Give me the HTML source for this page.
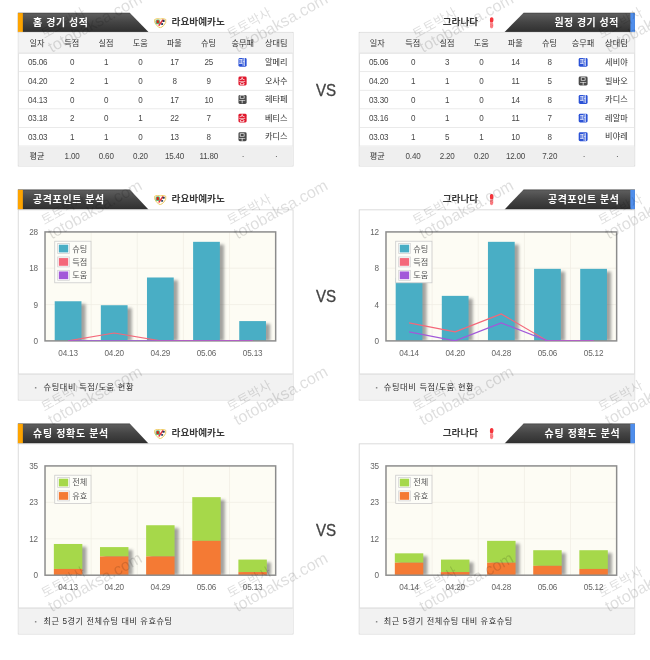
<!DOCTYPE html>
<html lang="ko"><head><meta charset="utf-8"><title>경기 분석</title>
<style>
html,body{margin:0;padding:0;background:#fff}
body{width:650px;height:660px;overflow:hidden;position:relative;font-family:"Liberation Sans","Noto Sans CJK KR",sans-serif}
#stage{position:absolute;left:0;top:0;width:875px;height:889px;transform:scale(0.742857143);transform-origin:0 0;background:#fff;overflow:hidden}
.abs{position:absolute}
svg.k{display:block;overflow:visible}
svg text{font-family:"Liberation Sans","Noto Sans CJK KR",sans-serif}
.hd{position:absolute;height:27px}
.tbl{position:absolute;box-sizing:border-box;border:1px solid #cfcfcf;background:#fff}
.row{position:relative;box-sizing:border-box;border-bottom:1px solid #e3e3e3;display:flex}
.row.th{background:#f3f3f3;border-bottom:1px solid #d9d9d9}
.row.avg{background:#efefef;border-bottom:none}
.c{display:flex;align-items:center;justify-content:center;font-size:12.6px;color:#484848;height:100%;flex:none}
.c.n{transform:scaleX(0.86);letter-spacing:-0.3px;box-sizing:border-box;padding-top:1px}
.c.d{padding-left:2.8px}
.bd{width:11.6px;height:12.2px;border-radius:2px;display:flex;align-items:center;justify-content:center;position:relative;left:-0.75px;top:0.7px}
.vs{position:absolute;font-size:21.3px;color:#444;width:60px;text-align:center;line-height:24px;transform:scaleX(0.955);-webkit-text-stroke:0.45px #444}
.panel{position:absolute;box-sizing:border-box;border:1px solid #cecece;background:#fff}
.foot{position:absolute;left:0;right:0;bottom:0;box-sizing:border-box;border-top:1px solid #d0d0d0;background:#f2f2f2}
</style></head>
<body>
<div id="stage">
<svg width="0" height="0" style="position:absolute"><defs><linearGradient id="hg" x1="0" y1="0" x2="0" y2="1"><stop offset="0" stop-color="#3c3c3c"/><stop offset="0.07" stop-color="#5c5c5c"/><stop offset="0.5" stop-color="#444"/><stop offset="0.93" stop-color="#323232"/><stop offset="1" stop-color="#262626"/></linearGradient></defs></svg>
<div class="hd" style="left:24.4px;top:17.1px;width:371.0px;height:26.4px"><svg class="abs" style="left:0;top:0;overflow:visible" width="371.0" height="26.4" viewBox="0 0 371.0 26.4"><polygon points="0,0 150.6,0 176.2,26.4 0,26.4" fill="url(#hg)"/><rect x="0" y="0.6" width="6.7" height="25.8" fill="#fea400"/><text x="20.5" y="18.6" font-size="13.4" font-weight="700" fill="#fff" textLength="73.7" lengthAdjust="spacing">홈 경기 성적</text></svg><svg class="abs" style="left:183.0px;top:6.5px" width="17.4" height="14.2" viewBox="0 0 17.4 14.2" role="img" aria-label="logo"><path d="M1.2 2.2 Q4.5 0.2 8.7 1.6 Q12.9 0.2 16.2 2.2 Q17.2 6.5 13.6 10.2 Q11 12.6 8.7 13.6 Q6.4 12.6 3.8 10.2 Q0.2 6.5 1.2 2.2Z" fill="#fffdf6" stroke="#eec95e" stroke-width="1.3"/><rect x="2.4" y="2.3" width="6.0" height="6.4" rx="2.2" fill="#5db880"/><rect x="3.8" y="3.2" width="3.1" height="4.2" rx="1" fill="#d9261c"/><path d="M11.6 1.9 L13.4 2.9 L7.4 11.2 L5.9 10.0Z" fill="#ea2f3c"/><rect x="11.9" y="2.7" width="2.7" height="2.9" rx="0.8" fill="#2a3552"/><rect x="9.9" y="7.1" width="2.7" height="2.6" rx="0.8" fill="#34415f"/></svg><svg class="k" role="img" aria-label="라요바예카노" width="79.10" height="13.20" viewBox="0 0 79.10 13.20" style="position:absolute;left:205.4px;top:6.2px"><text x="1" y="11" font-size="13" font-weight="700" fill="#3a3a3a">라요바예카노</text></svg></div>
<div class="hd" style="left:483.0px;top:17.1px;width:371.8px;height:26.4px"><svg class="abs" style="left:0;top:0;overflow:visible" width="371.8" height="26.4" viewBox="0 0 371.8 26.4"><polygon points="371.8,0 221.9,0 196,26.4 371.8,26.4" fill="url(#hg)"/><rect x="365.6" y="0.6" width="6.2" height="25.8" fill="#4f8eec"/><text x="263.4" y="18.6" font-size="13.4" font-weight="700" fill="#fff" textLength="86" lengthAdjust="spacing">원정 경기 성적</text></svg><svg class="k" role="img" aria-label="그라나다" width="53.10" height="13.20" viewBox="0 0 53.10 13.20" style="position:absolute;right:207.2px;top:6.2px"><text x="1" y="11" font-size="13" font-weight="700" fill="#3a3a3a">그라나다</text></svg><svg class="abs" style="left:176.4px;top:5.9px" width="5.8" height="15.6" viewBox="0 0 6.4 15.6" preserveAspectRatio="none" role="img" aria-label="logo"><path d="M3.0 0.3 C4.6 0.2 5.9 1.2 5.8 3.2 C5.9 5 5.4 6.6 4.4 7.4 L1.4 7.6 C0.5 6.2 0.3 4.2 0.6 2.6 C0.8 1.2 1.8 0.4 3.0 0.3Z" fill="#f5333a"/><path d="M1.2 7.4 L4.8 7.2 C5.6 9 5.8 11.4 5.4 13 C5 14.6 3.8 15.4 2.8 15.2 C1.6 15 0.8 13.8 0.7 12.2 C0.5 10.4 0.7 8.8 1.2 7.4Z" fill="#f9848a"/><path d="M1.4 8.8 L2.6 9.2 L2.2 10.6 Z M3.4 10.8 L4.6 11.4 L3.8 12.6 Z M1.6 12.4 L2.8 13 L2 14Z" fill="#f33" opacity="0.9"/></svg></div>
<div class="hd" style="left:24.4px;top:255.1px;width:371.0px;height:27.2px"><svg class="abs" style="left:0;top:0;overflow:visible" width="371.0" height="27.2" viewBox="0 0 371.0 27.2"><polygon points="0,0 150.6,0 176.2,27.2 0,27.2" fill="url(#hg)"/><rect x="0" y="0.6" width="6.7" height="26.6" fill="#fea400"/><text x="20.5" y="18.6" font-size="13.4" font-weight="700" fill="#fff" textLength="95.7" lengthAdjust="spacing">공격포인트 분석</text></svg><svg class="abs" style="left:183.0px;top:6.5px" width="17.4" height="14.2" viewBox="0 0 17.4 14.2" role="img" aria-label="logo"><path d="M1.2 2.2 Q4.5 0.2 8.7 1.6 Q12.9 0.2 16.2 2.2 Q17.2 6.5 13.6 10.2 Q11 12.6 8.7 13.6 Q6.4 12.6 3.8 10.2 Q0.2 6.5 1.2 2.2Z" fill="#fffdf6" stroke="#eec95e" stroke-width="1.3"/><rect x="2.4" y="2.3" width="6.0" height="6.4" rx="2.2" fill="#5db880"/><rect x="3.8" y="3.2" width="3.1" height="4.2" rx="1" fill="#d9261c"/><path d="M11.6 1.9 L13.4 2.9 L7.4 11.2 L5.9 10.0Z" fill="#ea2f3c"/><rect x="11.9" y="2.7" width="2.7" height="2.9" rx="0.8" fill="#2a3552"/><rect x="9.9" y="7.1" width="2.7" height="2.6" rx="0.8" fill="#34415f"/></svg><svg class="k" role="img" aria-label="라요바예카노" width="79.10" height="13.20" viewBox="0 0 79.10 13.20" style="position:absolute;left:205.4px;top:6.2px"><text x="1" y="11" font-size="13" font-weight="700" fill="#3a3a3a">라요바예카노</text></svg></div>
<div class="hd" style="left:483.0px;top:255.1px;width:371.8px;height:27.2px"><svg class="abs" style="left:0;top:0;overflow:visible" width="371.8" height="27.2" viewBox="0 0 371.8 27.2"><polygon points="371.8,0 221.9,0 196,27.2 371.8,27.2" fill="url(#hg)"/><rect x="365.6" y="0.6" width="6.2" height="26.6" fill="#4f8eec"/><text x="254.6" y="18.6" font-size="13.4" font-weight="700" fill="#fff" textLength="95.7" lengthAdjust="spacing">공격포인트 분석</text></svg><svg class="k" role="img" aria-label="그라나다" width="53.10" height="13.20" viewBox="0 0 53.10 13.20" style="position:absolute;right:207.2px;top:6.2px"><text x="1" y="11" font-size="13" font-weight="700" fill="#3a3a3a">그라나다</text></svg><svg class="abs" style="left:176.4px;top:5.9px" width="5.8" height="15.6" viewBox="0 0 6.4 15.6" preserveAspectRatio="none" role="img" aria-label="logo"><path d="M3.0 0.3 C4.6 0.2 5.9 1.2 5.8 3.2 C5.9 5 5.4 6.6 4.4 7.4 L1.4 7.6 C0.5 6.2 0.3 4.2 0.6 2.6 C0.8 1.2 1.8 0.4 3.0 0.3Z" fill="#f5333a"/><path d="M1.2 7.4 L4.8 7.2 C5.6 9 5.8 11.4 5.4 13 C5 14.6 3.8 15.4 2.8 15.2 C1.6 15 0.8 13.8 0.7 12.2 C0.5 10.4 0.7 8.8 1.2 7.4Z" fill="#f9848a"/><path d="M1.4 8.8 L2.6 9.2 L2.2 10.6 Z M3.4 10.8 L4.6 11.4 L3.8 12.6 Z M1.6 12.4 L2.8 13 L2 14Z" fill="#f33" opacity="0.9"/></svg></div>
<div class="hd" style="left:24.4px;top:570.1px;width:371.0px;height:27.2px"><svg class="abs" style="left:0;top:0;overflow:visible" width="371.0" height="27.2" viewBox="0 0 371.0 27.2"><polygon points="0,0 150.6,0 176.2,27.2 0,27.2" fill="url(#hg)"/><rect x="0" y="0.6" width="6.7" height="26.6" fill="#fea400"/><text x="20.5" y="18.6" font-size="13.4" font-weight="700" fill="#fff" textLength="101.2" lengthAdjust="spacing">슈팅 정확도 분석</text></svg><svg class="abs" style="left:183.0px;top:6.5px" width="17.4" height="14.2" viewBox="0 0 17.4 14.2" role="img" aria-label="logo"><path d="M1.2 2.2 Q4.5 0.2 8.7 1.6 Q12.9 0.2 16.2 2.2 Q17.2 6.5 13.6 10.2 Q11 12.6 8.7 13.6 Q6.4 12.6 3.8 10.2 Q0.2 6.5 1.2 2.2Z" fill="#fffdf6" stroke="#eec95e" stroke-width="1.3"/><rect x="2.4" y="2.3" width="6.0" height="6.4" rx="2.2" fill="#5db880"/><rect x="3.8" y="3.2" width="3.1" height="4.2" rx="1" fill="#d9261c"/><path d="M11.6 1.9 L13.4 2.9 L7.4 11.2 L5.9 10.0Z" fill="#ea2f3c"/><rect x="11.9" y="2.7" width="2.7" height="2.9" rx="0.8" fill="#2a3552"/><rect x="9.9" y="7.1" width="2.7" height="2.6" rx="0.8" fill="#34415f"/></svg><svg class="k" role="img" aria-label="라요바예카노" width="79.10" height="13.20" viewBox="0 0 79.10 13.20" style="position:absolute;left:205.4px;top:6.2px"><text x="1" y="11" font-size="13" font-weight="700" fill="#3a3a3a">라요바예카노</text></svg></div>
<div class="hd" style="left:483.0px;top:570.1px;width:371.8px;height:27.2px"><svg class="abs" style="left:0;top:0;overflow:visible" width="371.8" height="27.2" viewBox="0 0 371.8 27.2"><polygon points="371.8,0 221.9,0 196,27.2 371.8,27.2" fill="url(#hg)"/><rect x="365.6" y="0.6" width="6.2" height="26.6" fill="#4f8eec"/><text x="250.1" y="18.6" font-size="13.4" font-weight="700" fill="#fff" textLength="101.2" lengthAdjust="spacing">슈팅 정확도 분석</text></svg><svg class="k" role="img" aria-label="그라나다" width="53.10" height="13.20" viewBox="0 0 53.10 13.20" style="position:absolute;right:207.2px;top:6.2px"><text x="1" y="11" font-size="13" font-weight="700" fill="#3a3a3a">그라나다</text></svg><svg class="abs" style="left:176.4px;top:5.9px" width="5.8" height="15.6" viewBox="0 0 6.4 15.6" preserveAspectRatio="none" role="img" aria-label="logo"><path d="M3.0 0.3 C4.6 0.2 5.9 1.2 5.8 3.2 C5.9 5 5.4 6.6 4.4 7.4 L1.4 7.6 C0.5 6.2 0.3 4.2 0.6 2.6 C0.8 1.2 1.8 0.4 3.0 0.3Z" fill="#f5333a"/><path d="M1.2 7.4 L4.8 7.2 C5.6 9 5.8 11.4 5.4 13 C5 14.6 3.8 15.4 2.8 15.2 C1.6 15 0.8 13.8 0.7 12.2 C0.5 10.4 0.7 8.8 1.2 7.4Z" fill="#f9848a"/><path d="M1.4 8.8 L2.6 9.2 L2.2 10.6 Z M3.4 10.8 L4.6 11.4 L3.8 12.6 Z M1.6 12.4 L2.8 13 L2 14Z" fill="#f33" opacity="0.9"/></svg></div>
<div class="tbl" style="left:24.4px;top:43.0px;width:371.0px;height:181px"><div class="row th" style="height:27.6px"><div class="c" style="width:49px"><svg class="k" role="img" aria-label="일자" width="22.30" height="11.00" viewBox="0 0 22.30 11.00" style=""><text x="0.6" y="9.5" font-size="11" fill="#333">일자</text></svg></div><div class="c" style="width:46px"><svg class="k" role="img" aria-label="득점" width="22.30" height="11.00" viewBox="0 0 22.30 11.00" style=""><text x="0.6" y="9.5" font-size="11" fill="#333">득점</text></svg></div><div class="c" style="width:46px"><svg class="k" role="img" aria-label="실점" width="22.30" height="11.00" viewBox="0 0 22.30 11.00" style=""><text x="0.6" y="9.5" font-size="11" fill="#333">실점</text></svg></div><div class="c" style="width:46px"><svg class="k" role="img" aria-label="도움" width="22.30" height="11.00" viewBox="0 0 22.30 11.00" style=""><text x="0.6" y="9.5" font-size="11" fill="#333">도움</text></svg></div><div class="c" style="width:46px"><svg class="k" role="img" aria-label="파울" width="22.30" height="11.00" viewBox="0 0 22.30 11.00" style=""><text x="0.6" y="9.5" font-size="11" fill="#333">파울</text></svg></div><div class="c" style="width:46px"><svg class="k" role="img" aria-label="슈팅" width="22.30" height="11.00" viewBox="0 0 22.30 11.00" style=""><text x="0.6" y="9.5" font-size="11" fill="#333">슈팅</text></svg></div><div class="c" style="width:46px"><svg class="k" role="img" aria-label="승무패" width="33.30" height="11.00" viewBox="0 0 33.30 11.00" style=""><text x="0.6" y="9.5" font-size="11" fill="#333">승무패</text></svg></div><div class="c" style="width:44px"><svg class="k" role="img" aria-label="상대팀" width="33.30" height="11.00" viewBox="0 0 33.30 11.00" style=""><text x="0.6" y="9.5" font-size="11" fill="#333">상대팀</text></svg></div></div><div class="row" style="height:25px"><div class="c n d" style="width:49px">05.06</div><div class="c n" style="width:46px">0</div><div class="c n" style="width:46px">1</div><div class="c n" style="width:46px">0</div><div class="c n" style="width:46px">17</div><div class="c n" style="width:46px">25</div><div class="c" style="width:46px"><span class="bd" style="background:#2b52d6"><svg class="k" role="img" aria-label="패" width="10.60" height="10.40" viewBox="0 0 10.60 10.40" style="margin-left:-0.5px"><text x="0.3" y="8.9" font-size="10" fill="#fff">패</text></svg></span></div><div class="c" style="width:44px"><svg class="k" role="img" aria-label="알메리" width="33.30" height="11.00" viewBox="0 0 33.30 11.00" style=""><text x="0.6" y="9.5" font-size="11" fill="#2e2e2e">알메리</text></svg></div></div><div class="row" style="height:25px"><div class="c n d" style="width:49px">04.20</div><div class="c n" style="width:46px">2</div><div class="c n" style="width:46px">1</div><div class="c n" style="width:46px">0</div><div class="c n" style="width:46px">8</div><div class="c n" style="width:46px">9</div><div class="c" style="width:46px"><span class="bd" style="background:#e0182d"><svg class="k" role="img" aria-label="승" width="10.60" height="10.40" viewBox="0 0 10.60 10.40" style="margin-left:-0.5px"><text x="0.3" y="8.9" font-size="10" fill="#fff">승</text></svg></span></div><div class="c" style="width:44px"><svg class="k" role="img" aria-label="오사수" width="33.30" height="11.00" viewBox="0 0 33.30 11.00" style=""><text x="0.6" y="9.5" font-size="11" fill="#2e2e2e">오사수</text></svg></div></div><div class="row" style="height:25px"><div class="c n d" style="width:49px">04.13</div><div class="c n" style="width:46px">0</div><div class="c n" style="width:46px">0</div><div class="c n" style="width:46px">0</div><div class="c n" style="width:46px">17</div><div class="c n" style="width:46px">10</div><div class="c" style="width:46px"><span class="bd" style="background:#4a4a4a"><svg class="k" role="img" aria-label="무" width="10.60" height="10.40" viewBox="0 0 10.60 10.40" style="margin-left:-0.5px"><text x="0.3" y="8.9" font-size="10" fill="#fff">무</text></svg></span></div><div class="c" style="width:44px"><svg class="k" role="img" aria-label="헤타페" width="33.30" height="11.00" viewBox="0 0 33.30 11.00" style=""><text x="0.6" y="9.5" font-size="11" fill="#2e2e2e">헤타페</text></svg></div></div><div class="row" style="height:25px"><div class="c n d" style="width:49px">03.18</div><div class="c n" style="width:46px">2</div><div class="c n" style="width:46px">0</div><div class="c n" style="width:46px">1</div><div class="c n" style="width:46px">22</div><div class="c n" style="width:46px">7</div><div class="c" style="width:46px"><span class="bd" style="background:#e0182d"><svg class="k" role="img" aria-label="승" width="10.60" height="10.40" viewBox="0 0 10.60 10.40" style="margin-left:-0.5px"><text x="0.3" y="8.9" font-size="10" fill="#fff">승</text></svg></span></div><div class="c" style="width:44px"><svg class="k" role="img" aria-label="베티스" width="33.30" height="11.00" viewBox="0 0 33.30 11.00" style=""><text x="0.6" y="9.5" font-size="11" fill="#2e2e2e">베티스</text></svg></div></div><div class="row" style="height:25px"><div class="c n d" style="width:49px">03.03</div><div class="c n" style="width:46px">1</div><div class="c n" style="width:46px">1</div><div class="c n" style="width:46px">0</div><div class="c n" style="width:46px">13</div><div class="c n" style="width:46px">8</div><div class="c" style="width:46px"><span class="bd" style="background:#4a4a4a"><svg class="k" role="img" aria-label="무" width="10.60" height="10.40" viewBox="0 0 10.60 10.40" style="margin-left:-0.5px"><text x="0.3" y="8.9" font-size="10" fill="#fff">무</text></svg></span></div><div class="c" style="width:44px"><svg class="k" role="img" aria-label="카디스" width="33.30" height="11.00" viewBox="0 0 33.30 11.00" style=""><text x="0.6" y="9.5" font-size="11" fill="#2e2e2e">카디스</text></svg></div></div><div class="row avg" style="height:26.4px"><div class="c" style="width:49px"><svg class="k" role="img" aria-label="평균" width="22.30" height="11.00" viewBox="0 0 22.30 11.00" style=""><text x="0.6" y="9.5" font-size="11" fill="#2e2e2e">평균</text></svg></div><div class="c n" style="width:46px">1.00</div><div class="c n" style="width:46px">0.60</div><div class="c n" style="width:46px">0.20</div><div class="c n" style="width:46px">15.40</div><div class="c n" style="width:46px">11.80</div><div class="c n" style="width:46px">·</div><div class="c n" style="width:44px">·</div></div></div>
<div class="tbl" style="left:483.0px;top:43.0px;width:371.8px;height:181px"><div class="row th" style="height:27.6px"><div class="c" style="width:49px"><svg class="k" role="img" aria-label="일자" width="22.30" height="11.00" viewBox="0 0 22.30 11.00" style=""><text x="0.6" y="9.5" font-size="11" fill="#333">일자</text></svg></div><div class="c" style="width:46px"><svg class="k" role="img" aria-label="득점" width="22.30" height="11.00" viewBox="0 0 22.30 11.00" style=""><text x="0.6" y="9.5" font-size="11" fill="#333">득점</text></svg></div><div class="c" style="width:46px"><svg class="k" role="img" aria-label="실점" width="22.30" height="11.00" viewBox="0 0 22.30 11.00" style=""><text x="0.6" y="9.5" font-size="11" fill="#333">실점</text></svg></div><div class="c" style="width:46px"><svg class="k" role="img" aria-label="도움" width="22.30" height="11.00" viewBox="0 0 22.30 11.00" style=""><text x="0.6" y="9.5" font-size="11" fill="#333">도움</text></svg></div><div class="c" style="width:46px"><svg class="k" role="img" aria-label="파울" width="22.30" height="11.00" viewBox="0 0 22.30 11.00" style=""><text x="0.6" y="9.5" font-size="11" fill="#333">파울</text></svg></div><div class="c" style="width:46px"><svg class="k" role="img" aria-label="슈팅" width="22.30" height="11.00" viewBox="0 0 22.30 11.00" style=""><text x="0.6" y="9.5" font-size="11" fill="#333">슈팅</text></svg></div><div class="c" style="width:46px"><svg class="k" role="img" aria-label="승무패" width="33.30" height="11.00" viewBox="0 0 33.30 11.00" style=""><text x="0.6" y="9.5" font-size="11" fill="#333">승무패</text></svg></div><div class="c" style="width:44px"><svg class="k" role="img" aria-label="상대팀" width="33.30" height="11.00" viewBox="0 0 33.30 11.00" style=""><text x="0.6" y="9.5" font-size="11" fill="#333">상대팀</text></svg></div></div><div class="row" style="height:25px"><div class="c n d" style="width:49px">05.06</div><div class="c n" style="width:46px">0</div><div class="c n" style="width:46px">3</div><div class="c n" style="width:46px">0</div><div class="c n" style="width:46px">14</div><div class="c n" style="width:46px">8</div><div class="c" style="width:46px"><span class="bd" style="background:#2b52d6"><svg class="k" role="img" aria-label="패" width="10.60" height="10.40" viewBox="0 0 10.60 10.40" style="margin-left:-0.5px"><text x="0.3" y="8.9" font-size="10" fill="#fff">패</text></svg></span></div><div class="c" style="width:44px"><svg class="k" role="img" aria-label="세비야" width="33.30" height="11.00" viewBox="0 0 33.30 11.00" style=""><text x="0.6" y="9.5" font-size="11" fill="#2e2e2e">세비야</text></svg></div></div><div class="row" style="height:25px"><div class="c n d" style="width:49px">04.20</div><div class="c n" style="width:46px">1</div><div class="c n" style="width:46px">1</div><div class="c n" style="width:46px">0</div><div class="c n" style="width:46px">11</div><div class="c n" style="width:46px">5</div><div class="c" style="width:46px"><span class="bd" style="background:#4a4a4a"><svg class="k" role="img" aria-label="무" width="10.60" height="10.40" viewBox="0 0 10.60 10.40" style="margin-left:-0.5px"><text x="0.3" y="8.9" font-size="10" fill="#fff">무</text></svg></span></div><div class="c" style="width:44px"><svg class="k" role="img" aria-label="빌바오" width="33.30" height="11.00" viewBox="0 0 33.30 11.00" style=""><text x="0.6" y="9.5" font-size="11" fill="#2e2e2e">빌바오</text></svg></div></div><div class="row" style="height:25px"><div class="c n d" style="width:49px">03.30</div><div class="c n" style="width:46px">0</div><div class="c n" style="width:46px">1</div><div class="c n" style="width:46px">0</div><div class="c n" style="width:46px">14</div><div class="c n" style="width:46px">8</div><div class="c" style="width:46px"><span class="bd" style="background:#2b52d6"><svg class="k" role="img" aria-label="패" width="10.60" height="10.40" viewBox="0 0 10.60 10.40" style="margin-left:-0.5px"><text x="0.3" y="8.9" font-size="10" fill="#fff">패</text></svg></span></div><div class="c" style="width:44px"><svg class="k" role="img" aria-label="카디스" width="33.30" height="11.00" viewBox="0 0 33.30 11.00" style=""><text x="0.6" y="9.5" font-size="11" fill="#2e2e2e">카디스</text></svg></div></div><div class="row" style="height:25px"><div class="c n d" style="width:49px">03.16</div><div class="c n" style="width:46px">0</div><div class="c n" style="width:46px">1</div><div class="c n" style="width:46px">0</div><div class="c n" style="width:46px">11</div><div class="c n" style="width:46px">7</div><div class="c" style="width:46px"><span class="bd" style="background:#2b52d6"><svg class="k" role="img" aria-label="패" width="10.60" height="10.40" viewBox="0 0 10.60 10.40" style="margin-left:-0.5px"><text x="0.3" y="8.9" font-size="10" fill="#fff">패</text></svg></span></div><div class="c" style="width:44px"><svg class="k" role="img" aria-label="레알마" width="33.30" height="11.00" viewBox="0 0 33.30 11.00" style=""><text x="0.6" y="9.5" font-size="11" fill="#2e2e2e">레알마</text></svg></div></div><div class="row" style="height:25px"><div class="c n d" style="width:49px">03.03</div><div class="c n" style="width:46px">1</div><div class="c n" style="width:46px">5</div><div class="c n" style="width:46px">1</div><div class="c n" style="width:46px">10</div><div class="c n" style="width:46px">8</div><div class="c" style="width:46px"><span class="bd" style="background:#2b52d6"><svg class="k" role="img" aria-label="패" width="10.60" height="10.40" viewBox="0 0 10.60 10.40" style="margin-left:-0.5px"><text x="0.3" y="8.9" font-size="10" fill="#fff">패</text></svg></span></div><div class="c" style="width:44px"><svg class="k" role="img" aria-label="비야레" width="33.30" height="11.00" viewBox="0 0 33.30 11.00" style=""><text x="0.6" y="9.5" font-size="11" fill="#2e2e2e">비야레</text></svg></div></div><div class="row avg" style="height:26.4px"><div class="c" style="width:49px"><svg class="k" role="img" aria-label="평균" width="22.30" height="11.00" viewBox="0 0 22.30 11.00" style=""><text x="0.6" y="9.5" font-size="11" fill="#2e2e2e">평균</text></svg></div><div class="c n" style="width:46px">0.40</div><div class="c n" style="width:46px">2.20</div><div class="c n" style="width:46px">0.20</div><div class="c n" style="width:46px">12.00</div><div class="c n" style="width:46px">7.20</div><div class="c n" style="width:46px">·</div><div class="c n" style="width:44px">·</div></div></div>
<div class="vs" style="left:408.5px;top:110.4px">VS</div>
<div class="vs" style="left:408.5px;top:386.8px">VS</div>
<div class="vs" style="left:408.5px;top:701.9px">VS</div>
<svg width="0" height="0" style="position:absolute"><defs><filter id="bl" x="-20%" y="-20%" width="140%" height="140%"><feGaussianBlur stdDeviation="2.1"/></filter></defs></svg>
<div class="panel" style="left:24.4px;top:281.8px;width:371.0px;height:257.7px"><svg class="abs" style="left:0;top:-27.7px;overflow:visible" width="371.0" height="260" viewBox="0 0 371.0 260" font-family="Liberation Sans, Noto Sans CJK KR, sans-serif"><rect x="35.6" y="57.2" width="310.5" height="146.7" fill="#fdfcf4"/><line x1="97.70" y1="57.2" x2="97.70" y2="203.89999999999998" stroke="#f0ede4" stroke-width="1"/><line x1="159.80" y1="57.2" x2="159.80" y2="203.89999999999998" stroke="#f0ede4" stroke-width="1"/><line x1="221.90" y1="57.2" x2="221.90" y2="203.89999999999998" stroke="#f0ede4" stroke-width="1"/><line x1="284.00" y1="57.2" x2="284.00" y2="203.89999999999998" stroke="#f0ede4" stroke-width="1"/><line x1="35.6" y1="106.10" x2="346.1" y2="106.10" stroke="#f0ede4" stroke-width="1"/><line x1="35.6" y1="155.00" x2="346.1" y2="155.00" stroke="#f0ede4" stroke-width="1"/><svg x="35.6" y="57.2" width="310.5" height="146.7" viewBox="35.6 57.2 310.5 146.7" overflow="hidden"><rect x="54.25" y="154.35" width="36.0" height="49.55" fill="#4a4a4a" opacity="0.5" filter="url(#bl)"/><rect x="116.35" y="159.69" width="36.0" height="44.21" fill="#4a4a4a" opacity="0.5" filter="url(#bl)"/><rect x="178.45" y="122.35" width="36.0" height="81.55" fill="#4a4a4a" opacity="0.5" filter="url(#bl)"/><rect x="240.55" y="74.34" width="36.0" height="129.56" fill="#4a4a4a" opacity="0.5" filter="url(#bl)"/><rect x="302.65" y="181.03" width="36.0" height="22.87" fill="#4a4a4a" opacity="0.5" filter="url(#bl)"/></svg><rect x="48.65" y="150.55" width="36.0" height="53.35" fill="#49aec5"/><rect x="110.75" y="155.89" width="36.0" height="48.01" fill="#49aec5"/><rect x="172.85" y="118.55" width="36.0" height="85.35" fill="#49aec5"/><rect x="234.95" y="70.54" width="36.0" height="133.36" fill="#49aec5"/><rect x="297.05" y="177.23" width="36.0" height="26.67" fill="#49aec5"/><rect x="35.6" y="57.2" width="310.5" height="146.7" fill="none" stroke="#8c8c8c" stroke-width="2"/><svg x="35.6" y="57.2" width="310.5" height="146.7" viewBox="35.6 57.2 310.5 146.7" overflow="hidden"><polyline points="66.65,203.90 128.75,193.23 190.85,203.90 252.95,203.90 315.05,203.90" fill="none" stroke="#f4687a" stroke-width="1.55" stroke-linejoin="round"/><polyline points="66.65,203.90 128.75,203.90 190.85,203.90 252.95,203.90 315.05,203.90" fill="none" stroke="#a259d9" stroke-width="1.55" stroke-linejoin="round"/></svg><text x="26.1" y="61.10" font-size="11" fill="#666" letter-spacing="-0.25" text-anchor="end">28</text><text x="26.1" y="110.10" font-size="11" fill="#666" letter-spacing="-0.25" text-anchor="end">18</text><text x="26.1" y="159.10" font-size="11" fill="#666" letter-spacing="-0.25" text-anchor="end">9</text><text x="26.1" y="208.10" font-size="11" fill="#666" letter-spacing="-0.25" text-anchor="end">0</text><text x="66.65" y="224.60" font-size="11" fill="#666" letter-spacing="-0.25" text-anchor="middle">04.13</text><text x="128.75" y="224.60" font-size="11" fill="#666" letter-spacing="-0.25" text-anchor="middle">04.20</text><text x="190.85" y="224.60" font-size="11" fill="#666" letter-spacing="-0.25" text-anchor="middle">04.29</text><text x="252.95" y="224.60" font-size="11" fill="#666" letter-spacing="-0.25" text-anchor="middle">05.06</text><text x="315.05" y="224.60" font-size="11" fill="#666" letter-spacing="-0.25" text-anchor="middle">05.13</text><rect x="48.7" y="69.7" width="48.8" height="56" fill="#fdfdf8" stroke="#c9c9c9" stroke-width="1"/><rect x="52.7" y="72.9" width="15.6" height="13.4" fill="#fff" stroke="#cfcfcf" stroke-width="1"/><rect x="54.2" y="74.4" width="12.6" height="10.4" fill="#49aec5"/><text x="72.4" y="83.6" font-size="11" fill="#555">슈팅</text><rect x="52.7" y="90.9" width="15.6" height="13.4" fill="#fff" stroke="#cfcfcf" stroke-width="1"/><rect x="54.2" y="92.4" width="12.6" height="10.4" fill="#f4687a"/><text x="72.4" y="101.6" font-size="11" fill="#555">득점</text><rect x="52.7" y="108.9" width="15.6" height="13.4" fill="#fff" stroke="#cfcfcf" stroke-width="1"/><rect x="54.2" y="110.4" width="12.6" height="10.4" fill="#a259d9"/><text x="72.4" y="119.6" font-size="11" fill="#555">도움</text></svg><div class="foot" style="height:35.7px"><span class="abs" style="left:22.1px;top:17px;width:2px;height:2px;background:#888"></span><svg class="k" role="img" aria-label="슈팅대비 득점/도움 현황" width="122.23" height="11.00" viewBox="0 0 122.23 11.00" style="position:absolute;left:32.4px;top:12.4px"><text x="0.6" y="9.5" font-size="11" fill="#2e2e2e" textLength="121" lengthAdjust="spacing">슈팅대비 득점/도움 현황</text></svg></div></div>
<div class="panel" style="left:483.0px;top:281.8px;width:371.8px;height:257.7px"><svg class="abs" style="left:0;top:-27.7px;overflow:visible" width="371.0" height="260" viewBox="0 0 371.0 260" font-family="Liberation Sans, Noto Sans CJK KR, sans-serif"><rect x="35.6" y="57.2" width="310.5" height="146.7" fill="#fdfcf4"/><line x1="97.70" y1="57.2" x2="97.70" y2="203.89999999999998" stroke="#f0ede4" stroke-width="1"/><line x1="159.80" y1="57.2" x2="159.80" y2="203.89999999999998" stroke="#f0ede4" stroke-width="1"/><line x1="221.90" y1="57.2" x2="221.90" y2="203.89999999999998" stroke="#f0ede4" stroke-width="1"/><line x1="284.00" y1="57.2" x2="284.00" y2="203.89999999999998" stroke="#f0ede4" stroke-width="1"/><line x1="35.6" y1="106.10" x2="346.1" y2="106.10" stroke="#f0ede4" stroke-width="1"/><line x1="35.6" y1="155.00" x2="346.1" y2="155.00" stroke="#f0ede4" stroke-width="1"/><svg x="35.6" y="57.2" width="310.5" height="146.7" viewBox="35.6 57.2 310.5 146.7" overflow="hidden"><rect x="54.25" y="122.83" width="36.0" height="81.07" fill="#4a4a4a" opacity="0.5" filter="url(#bl)"/><rect x="116.35" y="147.08" width="36.0" height="56.82" fill="#4a4a4a" opacity="0.5" filter="url(#bl)"/><rect x="178.45" y="74.34" width="36.0" height="129.56" fill="#4a4a4a" opacity="0.5" filter="url(#bl)"/><rect x="240.55" y="110.71" width="36.0" height="93.19" fill="#4a4a4a" opacity="0.5" filter="url(#bl)"/><rect x="302.65" y="110.71" width="36.0" height="93.19" fill="#4a4a4a" opacity="0.5" filter="url(#bl)"/></svg><rect x="48.65" y="119.03" width="36.0" height="84.87" fill="#49aec5"/><rect x="110.75" y="143.28" width="36.0" height="60.62" fill="#49aec5"/><rect x="172.85" y="70.54" width="36.0" height="133.36" fill="#49aec5"/><rect x="234.95" y="106.91" width="36.0" height="96.99" fill="#49aec5"/><rect x="297.05" y="106.91" width="36.0" height="96.99" fill="#49aec5"/><rect x="35.6" y="57.2" width="310.5" height="146.7" fill="none" stroke="#8c8c8c" stroke-width="2"/><svg x="35.6" y="57.2" width="310.5" height="146.7" viewBox="35.6 57.2 310.5 146.7" overflow="hidden"><polyline points="66.65,179.65 128.75,191.78 190.85,167.53 252.95,203.90 315.05,203.90" fill="none" stroke="#f4687a" stroke-width="1.55" stroke-linejoin="round"/><polyline points="66.65,191.78 128.75,203.90 190.85,179.65 252.95,203.90 315.05,203.90" fill="none" stroke="#a259d9" stroke-width="1.55" stroke-linejoin="round"/></svg><text x="26.1" y="61.10" font-size="11" fill="#666" letter-spacing="-0.25" text-anchor="end">12</text><text x="26.1" y="110.10" font-size="11" fill="#666" letter-spacing="-0.25" text-anchor="end">8</text><text x="26.1" y="159.10" font-size="11" fill="#666" letter-spacing="-0.25" text-anchor="end">4</text><text x="26.1" y="208.10" font-size="11" fill="#666" letter-spacing="-0.25" text-anchor="end">0</text><text x="66.65" y="224.60" font-size="11" fill="#666" letter-spacing="-0.25" text-anchor="middle">04.14</text><text x="128.75" y="224.60" font-size="11" fill="#666" letter-spacing="-0.25" text-anchor="middle">04.20</text><text x="190.85" y="224.60" font-size="11" fill="#666" letter-spacing="-0.25" text-anchor="middle">04.28</text><text x="252.95" y="224.60" font-size="11" fill="#666" letter-spacing="-0.25" text-anchor="middle">05.06</text><text x="315.05" y="224.60" font-size="11" fill="#666" letter-spacing="-0.25" text-anchor="middle">05.12</text><rect x="48.7" y="69.7" width="48.8" height="56" fill="#fdfdf8" stroke="#c9c9c9" stroke-width="1"/><rect x="52.7" y="72.9" width="15.6" height="13.4" fill="#fff" stroke="#cfcfcf" stroke-width="1"/><rect x="54.2" y="74.4" width="12.6" height="10.4" fill="#49aec5"/><text x="72.4" y="83.6" font-size="11" fill="#555">슈팅</text><rect x="52.7" y="90.9" width="15.6" height="13.4" fill="#fff" stroke="#cfcfcf" stroke-width="1"/><rect x="54.2" y="92.4" width="12.6" height="10.4" fill="#f4687a"/><text x="72.4" y="101.6" font-size="11" fill="#555">득점</text><rect x="52.7" y="108.9" width="15.6" height="13.4" fill="#fff" stroke="#cfcfcf" stroke-width="1"/><rect x="54.2" y="110.4" width="12.6" height="10.4" fill="#a259d9"/><text x="72.4" y="119.6" font-size="11" fill="#555">도움</text></svg><div class="foot" style="height:35.7px"><span class="abs" style="left:22.1px;top:17px;width:2px;height:2px;background:#888"></span><svg class="k" role="img" aria-label="슈팅대비 득점/도움 현황" width="122.23" height="11.00" viewBox="0 0 122.23 11.00" style="position:absolute;left:32.4px;top:12.4px"><text x="0.6" y="9.5" font-size="11" fill="#2e2e2e" textLength="121" lengthAdjust="spacing">슈팅대비 득점/도움 현황</text></svg></div></div>
<div class="panel" style="left:24.4px;top:596.8000000000001px;width:371.0px;height:257.7px"><svg class="abs" style="left:0;top:-27.7px;overflow:visible" width="371.0" height="260" viewBox="0 0 371.0 260" font-family="Liberation Sans, Noto Sans CJK KR, sans-serif"><rect x="35.6" y="57.2" width="310.5" height="147.1" fill="#fdfcf4"/><line x1="97.70" y1="57.2" x2="97.70" y2="204.3" stroke="#f0ede4" stroke-width="1"/><line x1="159.80" y1="57.2" x2="159.80" y2="204.3" stroke="#f0ede4" stroke-width="1"/><line x1="221.90" y1="57.2" x2="221.90" y2="204.3" stroke="#f0ede4" stroke-width="1"/><line x1="284.00" y1="57.2" x2="284.00" y2="204.3" stroke="#f0ede4" stroke-width="1"/><line x1="35.6" y1="106.23" x2="346.1" y2="106.23" stroke="#f0ede4" stroke-width="1"/><line x1="35.6" y1="155.27" x2="346.1" y2="155.27" stroke="#f0ede4" stroke-width="1"/><svg x="35.6" y="57.2" width="310.5" height="147.1" viewBox="35.6 57.2 310.5 147.1" overflow="hidden"><rect x="53.10" y="166.07" width="38.3" height="38.23" fill="#4a4a4a" opacity="0.5" filter="url(#bl)"/><rect x="115.20" y="170.27" width="38.3" height="34.03" fill="#4a4a4a" opacity="0.5" filter="url(#bl)"/><rect x="177.30" y="140.85" width="38.3" height="63.45" fill="#4a4a4a" opacity="0.5" filter="url(#bl)"/><rect x="239.40" y="103.03" width="38.3" height="101.27" fill="#4a4a4a" opacity="0.5" filter="url(#bl)"/><rect x="301.50" y="187.09" width="38.3" height="17.21" fill="#4a4a4a" opacity="0.5" filter="url(#bl)"/></svg><rect x="47.50" y="162.27" width="38.3" height="33.62" fill="#a6d84a"/><rect x="47.50" y="195.89" width="38.3" height="8.41" fill="#f47a34"/><rect x="109.60" y="166.47" width="38.3" height="12.61" fill="#a6d84a"/><rect x="109.60" y="179.08" width="38.3" height="25.22" fill="#f47a34"/><rect x="171.70" y="137.05" width="38.3" height="42.03" fill="#a6d84a"/><rect x="171.70" y="179.08" width="38.3" height="25.22" fill="#f47a34"/><rect x="233.80" y="99.23" width="38.3" height="58.84" fill="#a6d84a"/><rect x="233.80" y="158.07" width="38.3" height="46.23" fill="#f47a34"/><rect x="295.90" y="183.29" width="38.3" height="16.81" fill="#a6d84a"/><rect x="295.90" y="200.10" width="38.3" height="4.20" fill="#f47a34"/><rect x="35.6" y="57.2" width="310.5" height="147.1" fill="none" stroke="#8c8c8c" stroke-width="2"/><text x="26.1" y="61.10" font-size="11" fill="#666" letter-spacing="-0.25" text-anchor="end">35</text><text x="26.1" y="110.10" font-size="11" fill="#666" letter-spacing="-0.25" text-anchor="end">23</text><text x="26.1" y="159.10" font-size="11" fill="#666" letter-spacing="-0.25" text-anchor="end">12</text><text x="26.1" y="208.10" font-size="11" fill="#666" letter-spacing="-0.25" text-anchor="end">0</text><text x="66.65" y="224.60" font-size="11" fill="#666" letter-spacing="-0.25" text-anchor="middle">04.13</text><text x="128.75" y="224.60" font-size="11" fill="#666" letter-spacing="-0.25" text-anchor="middle">04.20</text><text x="190.85" y="224.60" font-size="11" fill="#666" letter-spacing="-0.25" text-anchor="middle">04.29</text><text x="252.95" y="224.60" font-size="11" fill="#666" letter-spacing="-0.25" text-anchor="middle">05.06</text><text x="315.05" y="224.60" font-size="11" fill="#666" letter-spacing="-0.25" text-anchor="middle">05.13</text><rect x="48.7" y="69.7" width="48.8" height="38" fill="#fdfdf8" stroke="#c9c9c9" stroke-width="1"/><rect x="52.7" y="72.9" width="15.6" height="13.4" fill="#fff" stroke="#cfcfcf" stroke-width="1"/><rect x="54.2" y="74.4" width="12.6" height="10.4" fill="#a6d84a"/><text x="72.4" y="83.5" font-size="11" fill="#555">전체</text><rect x="52.7" y="90.9" width="15.6" height="13.4" fill="#fff" stroke="#cfcfcf" stroke-width="1"/><rect x="54.2" y="92.4" width="12.6" height="10.4" fill="#f47a34"/><text x="72.4" y="101.6" font-size="11" fill="#555">유효</text></svg><div class="foot" style="height:35.7px"><span class="abs" style="left:22.1px;top:17px;width:2px;height:2px;background:#888"></span><svg class="k" role="img" aria-label="최근 5경기 전체슈팅 대비 유효슈팅" width="175.41" height="11.00" viewBox="0 0 175.41 11.00" style="position:absolute;left:32.4px;top:12.4px"><text x="0.6" y="9.5" font-size="11" fill="#2e2e2e" textLength="173" lengthAdjust="spacing">최근 5경기 전체슈팅 대비 유효슈팅</text></svg></div></div>
<div class="panel" style="left:483.0px;top:596.8000000000001px;width:371.8px;height:257.7px"><svg class="abs" style="left:0;top:-27.7px;overflow:visible" width="371.0" height="260" viewBox="0 0 371.0 260" font-family="Liberation Sans, Noto Sans CJK KR, sans-serif"><rect x="35.6" y="57.2" width="310.5" height="147.1" fill="#fdfcf4"/><line x1="97.70" y1="57.2" x2="97.70" y2="204.3" stroke="#f0ede4" stroke-width="1"/><line x1="159.80" y1="57.2" x2="159.80" y2="204.3" stroke="#f0ede4" stroke-width="1"/><line x1="221.90" y1="57.2" x2="221.90" y2="204.3" stroke="#f0ede4" stroke-width="1"/><line x1="284.00" y1="57.2" x2="284.00" y2="204.3" stroke="#f0ede4" stroke-width="1"/><line x1="35.6" y1="106.23" x2="346.1" y2="106.23" stroke="#f0ede4" stroke-width="1"/><line x1="35.6" y1="155.27" x2="346.1" y2="155.27" stroke="#f0ede4" stroke-width="1"/><svg x="35.6" y="57.2" width="310.5" height="147.1" viewBox="35.6 57.2 310.5 147.1" overflow="hidden"><rect x="53.10" y="178.68" width="38.3" height="25.62" fill="#4a4a4a" opacity="0.5" filter="url(#bl)"/><rect x="115.20" y="187.09" width="38.3" height="17.21" fill="#4a4a4a" opacity="0.5" filter="url(#bl)"/><rect x="177.30" y="161.87" width="38.3" height="42.43" fill="#4a4a4a" opacity="0.5" filter="url(#bl)"/><rect x="239.40" y="174.48" width="38.3" height="29.82" fill="#4a4a4a" opacity="0.5" filter="url(#bl)"/><rect x="301.50" y="174.48" width="38.3" height="29.82" fill="#4a4a4a" opacity="0.5" filter="url(#bl)"/></svg><rect x="47.50" y="174.88" width="38.3" height="12.61" fill="#a6d84a"/><rect x="47.50" y="187.49" width="38.3" height="16.81" fill="#f47a34"/><rect x="109.60" y="183.29" width="38.3" height="16.81" fill="#a6d84a"/><rect x="109.60" y="200.10" width="38.3" height="4.20" fill="#f47a34"/><rect x="171.70" y="158.07" width="38.3" height="29.42" fill="#a6d84a"/><rect x="171.70" y="187.49" width="38.3" height="16.81" fill="#f47a34"/><rect x="233.80" y="170.68" width="38.3" height="21.01" fill="#a6d84a"/><rect x="233.80" y="191.69" width="38.3" height="12.61" fill="#f47a34"/><rect x="295.90" y="170.68" width="38.3" height="25.22" fill="#a6d84a"/><rect x="295.90" y="195.89" width="38.3" height="8.41" fill="#f47a34"/><rect x="35.6" y="57.2" width="310.5" height="147.1" fill="none" stroke="#8c8c8c" stroke-width="2"/><text x="26.1" y="61.10" font-size="11" fill="#666" letter-spacing="-0.25" text-anchor="end">35</text><text x="26.1" y="110.10" font-size="11" fill="#666" letter-spacing="-0.25" text-anchor="end">23</text><text x="26.1" y="159.10" font-size="11" fill="#666" letter-spacing="-0.25" text-anchor="end">12</text><text x="26.1" y="208.10" font-size="11" fill="#666" letter-spacing="-0.25" text-anchor="end">0</text><text x="66.65" y="224.60" font-size="11" fill="#666" letter-spacing="-0.25" text-anchor="middle">04.14</text><text x="128.75" y="224.60" font-size="11" fill="#666" letter-spacing="-0.25" text-anchor="middle">04.20</text><text x="190.85" y="224.60" font-size="11" fill="#666" letter-spacing="-0.25" text-anchor="middle">04.28</text><text x="252.95" y="224.60" font-size="11" fill="#666" letter-spacing="-0.25" text-anchor="middle">05.06</text><text x="315.05" y="224.60" font-size="11" fill="#666" letter-spacing="-0.25" text-anchor="middle">05.12</text><rect x="48.7" y="69.7" width="48.8" height="38" fill="#fdfdf8" stroke="#c9c9c9" stroke-width="1"/><rect x="52.7" y="72.9" width="15.6" height="13.4" fill="#fff" stroke="#cfcfcf" stroke-width="1"/><rect x="54.2" y="74.4" width="12.6" height="10.4" fill="#a6d84a"/><text x="72.4" y="83.5" font-size="11" fill="#555">전체</text><rect x="52.7" y="90.9" width="15.6" height="13.4" fill="#fff" stroke="#cfcfcf" stroke-width="1"/><rect x="54.2" y="92.4" width="12.6" height="10.4" fill="#f47a34"/><text x="72.4" y="101.6" font-size="11" fill="#555">유효</text></svg><div class="foot" style="height:35.7px"><span class="abs" style="left:22.1px;top:17px;width:2px;height:2px;background:#888"></span><svg class="k" role="img" aria-label="최근 5경기 전체슈팅 대비 유효슈팅" width="175.41" height="11.00" viewBox="0 0 175.41 11.00" style="position:absolute;left:32.4px;top:12.4px"><text x="0.6" y="9.5" font-size="11" fill="#2e2e2e" textLength="173" lengthAdjust="spacing">최근 5경기 전체슈팅 대비 유효슈팅</text></svg></div></div>
<svg class="abs" style="left:0;top:0;pointer-events:none" width="875" height="889" viewBox="0 0 875 889"><defs><g id="wm" fill="#000" fill-opacity="0.135"><text x="-8.8" y="6.6" font-size="17.7" font-family="Liberation Sans, Noto Sans CJK KR, sans-serif">토토박사</text><text x="-9.5" y="28" font-size="21.7" font-family="Liberation Sans, sans-serif">totobaksa.com</text></g></defs><use href="#wm" transform="translate(64.3 42.3) rotate(-29)"/><use href="#wm" transform="translate(314.3 42.3) rotate(-29)"/><use href="#wm" transform="translate(564.3 42.3) rotate(-29)"/><use href="#wm" transform="translate(814.3 42.3) rotate(-29)"/><use href="#wm" transform="translate(64.3 293.2) rotate(-29)"/><use href="#wm" transform="translate(314.3 293.2) rotate(-29)"/><use href="#wm" transform="translate(564.3 293.2) rotate(-29)"/><use href="#wm" transform="translate(814.3 293.2) rotate(-29)"/><use href="#wm" transform="translate(64.3 544.1) rotate(-29)"/><use href="#wm" transform="translate(314.3 544.1) rotate(-29)"/><use href="#wm" transform="translate(564.3 544.1) rotate(-29)"/><use href="#wm" transform="translate(814.3 544.1) rotate(-29)"/><use href="#wm" transform="translate(64.3 795.0) rotate(-29)"/><use href="#wm" transform="translate(314.3 795.0) rotate(-29)"/><use href="#wm" transform="translate(564.3 795.0) rotate(-29)"/><use href="#wm" transform="translate(814.3 795.0) rotate(-29)"/></svg>
</div>
</body></html>
